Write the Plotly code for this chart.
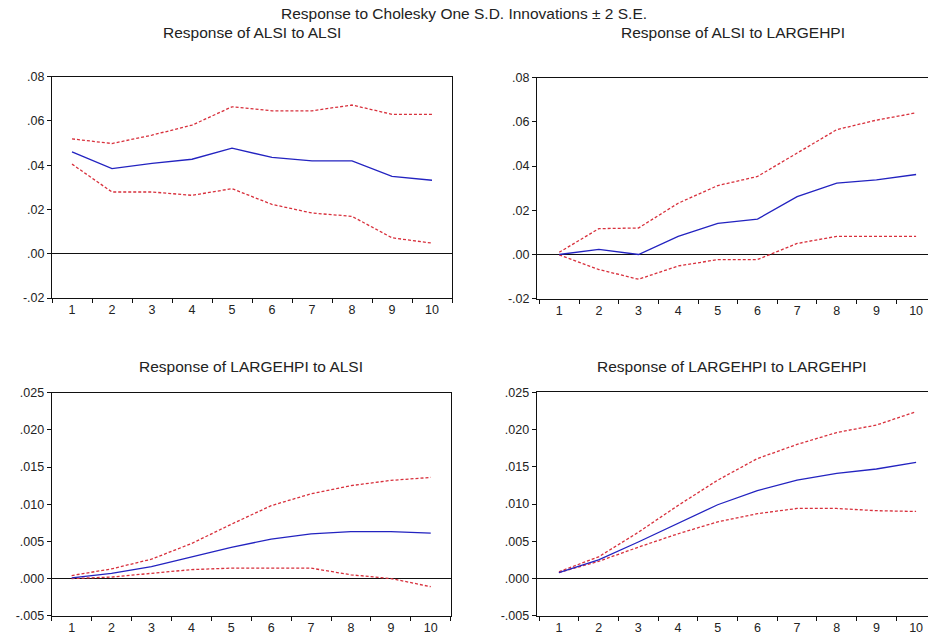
import plotly.graph_objects as go

periods = [1, 2, 3, 4, 5, 6, 7, 8, 9, 10]

titles = ["Response of ALSI to ALSI", "Response of ALSI to LARGEHPI",
          "Response of LARGEHPI to ALSI", "Response of LARGEHPI to LARGEHPI"]
main_title = "Response to Cholesky One S.D. Innovations \u00b1 2 S.E."

# Panel 1: ALSI to ALSI
p1_resp = [0.0460, 0.0385, 0.0408, 0.0427, 0.0477, 0.0435, 0.0420, 0.0420, 0.0350, 0.0332]
p1_up = [0.0519, 0.0498, 0.0536, 0.0581, 0.0664, 0.0646, 0.0646, 0.0672, 0.0630, 0.0630]
p1_lo = [0.0405, 0.0279, 0.0279, 0.0264, 0.0294, 0.0223, 0.0184, 0.0169, 0.0072, 0.0048]

# Panel 2: ALSI to LARGEHPI
p2_resp = [0.0000, 0.0023, 0.0000, 0.0082, 0.0141, 0.0160, 0.0262, 0.0323, 0.0338, 0.0362]
p2_up = [0.0010, 0.0117, 0.0120, 0.0232, 0.0312, 0.0353, 0.0459, 0.0565, 0.0608, 0.0641]
p2_lo = [-0.0002, -0.0068, -0.0112, -0.0052, -0.0023, -0.0023, 0.0050, 0.0082, 0.0082, 0.0082]

# Panel 3: LARGEHPI to ALSI
p3_resp = [0.0001, 0.0007, 0.0016, 0.0029, 0.0042, 0.0053, 0.0060, 0.0063, 0.0063, 0.0061]
p3_up = [0.0004, 0.0013, 0.0026, 0.0047, 0.0073, 0.0098, 0.0114, 0.0125, 0.0132, 0.0136]
p3_lo = [0.0000, 0.0002, 0.0007, 0.0012, 0.0014, 0.0014, 0.0014, 0.0005, 0.0000, -0.0011]

# Panel 4: LARGEHPI to LARGEHPI
p4_resp = [0.0008, 0.0025, 0.0049, 0.0074, 0.0099, 0.0118, 0.0132, 0.0141, 0.0147, 0.0156]
p4_up = [0.0009, 0.0029, 0.0062, 0.0098, 0.0132, 0.0161, 0.0180, 0.0196, 0.0206, 0.0224]
p4_lo = [0.0008, 0.0023, 0.0042, 0.0060, 0.0076, 0.0087, 0.0094, 0.0094, 0.0091, 0.0090]

top_ticks = [-0.02, 0.00, 0.02, 0.04, 0.06, 0.08]
top_ticktext = ["-.02", ".00", ".02", ".04", ".06", ".08"]
bot_ticks = [-0.005, 0.000, 0.005, 0.010, 0.015, 0.020, 0.025]
bot_ticktext = ["-.005", ".000", ".005", ".010", ".015", ".020", ".025"]

panels = [
    (p1_resp, p1_up, p1_lo),
    (p2_resp, p2_up, p2_lo),
    (p3_resp, p3_up, p3_lo),
    (p4_resp, p4_up, p4_lo),
]

W, H = 928, 639
# pixel boxes: left, right, top, bottom
boxes = [
    (52, 452, 76.7, 298.0),
    (537, 928, 77.7, 298.7),
    (51.7, 450.7, 392.7, 615.7),
    (536.7, 928, 392.3, 615.7),
]
xranges = [[0.5, 10.5], [0.44, 10.3], [0.5, 10.5], [0.44, 10.3]]
yranges = [[-0.02, 0.08], [-0.02, 0.08], [-0.005, 0.025], [-0.005, 0.025]]

BLUE = "#2323c0"
RED = "#d8303c"
FONT = "Liberation Sans, Arial, sans-serif"
TXT = "#222"

fig = go.Figure()
layout = dict(
    template="none",
    width=W, height=H,
    margin=dict(l=0, r=0, t=0, b=0, autoexpand=False),
    paper_bgcolor="white", plot_bgcolor="white",
    showlegend=False,
    font=dict(family=FONT, size=12, color=TXT),
)
annotations = [dict(text=main_title, x=464 / W, y=1 - 14 / H, xref="paper", yref="paper",
                    showarrow=False, font=dict(size=15.5, color=TXT),
                    xanchor="center", yanchor="middle")]

for i, (resp, up, lo) in enumerate(panels):
    n = i + 1
    xa = "x" if n == 1 else f"x{n}"
    ya = "y" if n == 1 else f"y{n}"
    for vals, color, dash, width in [(up, RED, "3px,2px", 1.3), (lo, RED, "3px,2px", 1.3), (resp, BLUE, "solid", 1.3)]:
        fig.add_trace(go.Scatter(x=periods, y=vals, mode="lines", xaxis=xa, yaxis=ya,
                                 line=dict(color=color, dash=dash, width=width),
                                 hoverinfo="skip"))
    L, R, T, B = boxes[i]
    xkey = "xaxis" if n == 1 else f"xaxis{n}"
    ykey = "yaxis" if n == 1 else f"yaxis{n}"
    layout[xkey] = dict(
        domain=[L / W, R / W], anchor=ya, range=xranges[i], automargin=False,
        tickmode="array", tickvals=periods, ticktext=[str(p) for p in periods],
        ticks="", showgrid=False, zeroline=False,
        showline=True, linecolor="#111", linewidth=1, mirror=True,
        tickfont=dict(size=12.5, color=TXT), ticklabeloverflow="allow",
        minor=dict(tickmode="array", tickvals=[k + 0.5 for k in range(0, 11)],
                   ticks="outside", ticklen=4, tickcolor="#111", tickwidth=1, showgrid=False),
    )
    tv = top_ticks if i < 2 else bot_ticks
    tt = top_ticktext if i < 2 else bot_ticktext
    layout[ykey] = dict(
        domain=[1 - B / H, 1 - T / H], anchor=xa, range=yranges[i], automargin=False,
        tickmode="array", tickvals=tv, ticktext=tt,
        ticks="outside", ticklen=4, tickcolor="#111",
        showgrid=False, zeroline=True, zerolinecolor="#111", zerolinewidth=1,
        showline=True, linecolor="#111", linewidth=1, mirror=True,
        tickfont=dict(size=12.5, color=TXT),
    )
    cx = (L + min(R, L + 400)) / 2.0
    ty = 32 if i < 2 else 366.5
    annotations.append(dict(text=titles[i], x=cx / W, y=1 - ty / H, xref="paper", yref="paper",
                            showarrow=False, font=dict(size=15.5, color=TXT),
                            xanchor="center", yanchor="middle"))

layout["annotations"] = annotations
fig.update_layout(**layout)
fig.write_html("out.html", config={"displayModeBar": False},
               post_script="document.body.style.margin='0';document.body.style.overflow='hidden';")
